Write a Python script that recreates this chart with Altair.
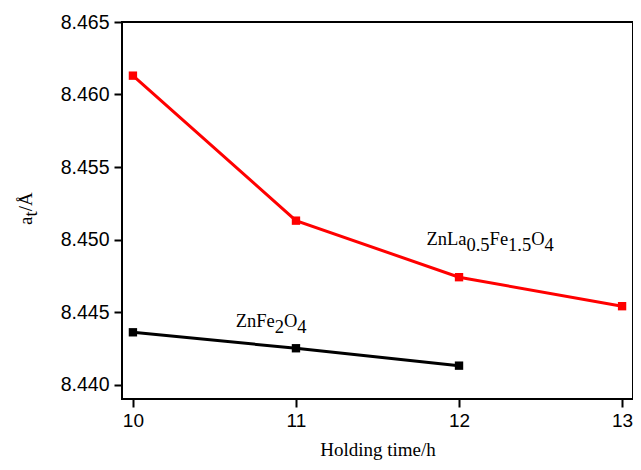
import altair as alt
import pandas as pd

hours = [10, 11, 12, 13]
la_series = [8.4613, 8.4513, 8.4474, 8.4454]
zn_hours = [10, 11, 12]
zn_series = [8.4436, 8.4425, 8.4413]

x_ticks = [10, 10.5, 11, 11.5, 12, 12.5, 13]
y_ticks = [8.440, 8.4425, 8.445, 8.4475, 8.450, 8.4525, 8.455, 8.4575, 8.460, 8.4625, 8.465]

# label pieces: (text, is_subscript)
label_la = [("ZnLa", 0), ("0.5", 1), ("Fe", 0), ("1.5", 1), ("O", 0), ("4", 1)]
label_zn = [("ZnFe", 0), ("2", 1), ("O", 0), ("4", 1)]
label_la_pos = (11.80, 8.4496)
label_zn_pos = (10.63, 8.4440)
ytitle = [("a", 0), ("t", 1), ("/Å", 0)]

# approximate Times glyph widths (em) for laying out the pieces
W = {"Z": .611, "n": .5, "L": .611, "a": .444, "F": .556, "e": .444, "O": .722,
     ".": .25, "t": .278, "/": .278, "Å": .722}
for d in "0123456789":
    W[d] = .5


def width(s, fs):
    return sum(W.get(c, .5) for c in s) * fs


ANN_FS = 18.5
SUB_DROP = 6


def pieces(parts, fs, drop):
    rows, off = [], 0.0
    for txt, sub in parts:
        rows.append({"t": txt, "dx": off, "dy": drop if sub else 0})
        off += width(txt, fs)
    return rows


rows = []
for parts, (hx, ay) in ((label_la, label_la_pos), (label_zn, label_zn_pos)):
    for r in pieces(parts, ANN_FS, SUB_DROP):
        r.update(h=hx, a=ay)
        rows.append(r)
lab = pd.DataFrame(rows)

df = pd.DataFrame(
    {"h": hours + zn_hours,
     "a": la_series + zn_series,
     "s": ["la"] * len(hours) + ["zn"] * len(zn_hours)}
)

xscale = alt.Scale(domain=[9.933, 13.067], nice=False, zero=False)
yscale = alt.Scale(domain=[8.439, 8.465], nice=False, zero=False)

major_y = "abs(datum.value*200 - round(datum.value*200)) < 0.01"
xaxis = alt.Axis(
    values=x_ticks,
    format="d",
    labelExpr="datum.value % 1 == 0 ? datum.label : ''",
    title="Holding time/h",
    grid=False,
    tickSize={"condition": {"test": "datum.value % 1 == 0", "value": 8}, "value": 5},
    tickWidth=2, tickColor="black", domain=False,
    labelFont="Liberation Sans", labelFontSize=19, labelColor="black",
    labelPadding=4,
    titleFont="Liberation Serif", titleFontSize=19, titleFontWeight="normal",
    titleColor="black", titlePadding=10,
)
yaxis = alt.Axis(
    values=y_ticks,
    format=".3f",
    labelExpr=major_y + " ? datum.label : ''",
    title=None,
    grid=False,
    tickSize={"condition": {"test": major_y, "value": 8}, "value": 5},
    tickWidth=2, tickColor="black", domain=False,
    labelFont="Liberation Sans", labelFontSize=19.5, labelColor="black",
    labelPadding=5,
)

color = alt.Color("s:N", scale=alt.Scale(domain=["la", "zn"], range=["#ff0000", "#000000"]), legend=None)

base = alt.Chart(df).encode(
    x=alt.X("h:Q", scale=xscale, axis=xaxis),
    y=alt.Y("a:Q", scale=yscale, axis=yaxis),
    color=color,
    detail="s:N",
)
lines = base.mark_line(strokeWidth=3)
points = base.mark_point(shape="square", filled=True, size=70, opacity=1)

# separate layers per piece so each gets its own dx/dy offset
piece_layers = []
for i, r in lab.iterrows():
    piece_layers.append(
        alt.Chart(lab.iloc[[i]]).mark_text(
            align="left", baseline="alphabetic", font="Liberation Serif",
            fontSize=ANN_FS, color="black", dx=r["dx"], dy=r["dy"],
        ).encode(
            x=alt.X("h:Q", scale=xscale),
            y=alt.Y("a:Q", scale=yscale),
            text="t:N",
        )
    )

# y axis title a_t/Å drawn as rotated text pieces
TITLE_FS = 19
yt = pd.DataFrame(pieces(ytitle, TITLE_FS, 5))
ytitle_layers = []
for i, r in yt.iterrows():
    ytitle_layers.append(
        alt.Chart(yt.iloc[[i]]).mark_text(
            align="left", baseline="alphabetic", font="Liberation Serif",
            fontSize=TITLE_FS, color="black", angle=270, dx=r["dx"], dy=r["dy"],
        ).encode(
            x=alt.value(-90),
            y=alt.value(203),
            text="t:N",
        )
    )

chart = alt.layer(lines, points, *piece_layers, *ytitle_layers).properties(
    width=511, height=377,
    background="white",
    autosize=alt.AutoSizeParams(type="none"),
    padding={"left": 114, "top": 14, "right": 0, "bottom": 63},
).configure_view(stroke="black", strokeWidth=2)

chart.save("out.html", embed_options={"renderer": "svg", "actions": False})
